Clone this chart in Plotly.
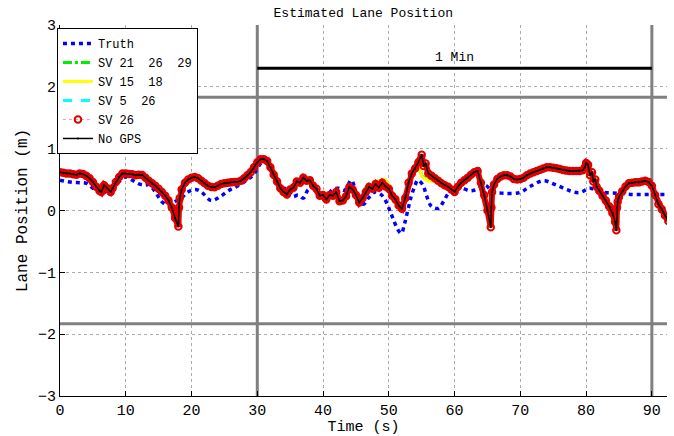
import plotly.graph_objects as go

# ---------------- data ----------------
est_t = [0.0, 0.5, 1.0, 1.5, 2.0, 2.5, 3.0, 3.5, 4.0, 4.5, 5.0, 5.5, 6.0, 6.3, 6.7, 7.2, 7.7, 8.0, 8.5, 9.0,
         9.5, 10.0, 10.5, 11.0, 11.5, 12.0, 12.5, 13.0, 13.5, 14.0, 14.5, 15.0, 15.5, 16.0, 16.5, 17.0, 17.5, 18.0,
         18.1, 18.2, 18.5, 19.0, 19.5, 20.0, 20.5, 21.0, 21.5, 22.0, 22.5, 23.0, 23.5, 24.0, 24.5, 25.0, 25.5,
         26.0, 26.5, 27.0, 27.5, 28.0, 28.5, 29.0, 29.5, 30.0, 30.5, 31.0, 31.5, 32.0, 32.5, 33.0, 33.5,
         34.0, 34.5, 35.0, 35.5, 36.0, 36.5, 37.0, 37.5, 38.0, 38.5, 39.0, 39.5, 40.0, 40.5, 41.0, 41.5,
         42.0, 42.5, 43.0, 43.5, 44.0, 44.5, 45.0, 45.5, 46.0, 46.5, 47.0, 47.5, 48.0, 48.5, 49.0, 49.5,
         50.0, 50.5, 51.0, 51.5, 52.0, 52.5, 53.0, 53.5, 54.0, 54.5, 55.0, 55.3, 55.6, 56.0, 56.5, 57.0,
         57.5, 58.0, 58.5, 59.0, 59.5, 60.0, 60.5, 61.0, 61.5, 62.0, 62.5, 63.0, 63.5, 64.0, 64.5, 65.0,
         65.5, 65.6, 65.7, 66.0, 66.5, 67.0, 67.5, 68.0, 68.5, 69.0, 69.5, 70.0, 70.5, 71.0, 71.5, 72.0,
         72.5, 73.0, 73.5, 74.0, 74.5, 75.0, 75.5, 76.0, 76.5, 77.0, 77.5, 78.0, 78.5, 79.0, 79.5, 79.8,
         80.0, 80.3, 80.6, 80.9, 81.1, 81.4, 81.6, 82.0, 82.5, 83.0, 83.5, 84.0, 84.4, 84.6, 84.7, 84.8,
         85.0, 85.5, 86.0, 86.5, 87.0, 87.5, 88.0, 88.5, 89.0, 89.5, 90.0, 90.5, 91.0, 91.5, 92.0, 92.5]
est_y = [0.62, 0.61, 0.60, 0.60, 0.585, 0.58, 0.60, 0.59, 0.56, 0.52, 0.46, 0.385, 0.32, 0.30, 0.41, 0.36, 0.30, 0.36, 0.46, 0.54,
         0.60, 0.60, 0.59, 0.585, 0.57, 0.58, 0.575, 0.53, 0.48, 0.44, 0.40, 0.35, 0.30, 0.24, 0.16, 0.05, -0.12, -0.26,
         0.05, 0.20, 0.34, 0.45, 0.50, 0.53, 0.54, 0.52, 0.48, 0.44, 0.40, 0.38, 0.375, 0.40, 0.43, 0.44, 0.45,
         0.455, 0.46, 0.46, 0.48, 0.52, 0.57, 0.62, 0.70, 0.78, 0.83, 0.83, 0.80, 0.70, 0.58, 0.47, 0.36,
         0.30, 0.26, 0.34, 0.37, 0.47, 0.45, 0.53, 0.48, 0.49, 0.40, 0.35, 0.24, 0.25, 0.18, 0.25, 0.24,
         0.30, 0.15, 0.16, 0.23, 0.38, 0.34, 0.25, 0.13, 0.20, 0.30, 0.38, 0.35, 0.43, 0.37, 0.45, 0.39,
         0.35, 0.24, 0.18, 0.08, 0.03, 0.20, 0.45, 0.60, 0.68, 0.78, 0.90, 0.72, 0.76, 0.60, 0.56, 0.52,
         0.48, 0.44, 0.41, 0.385, 0.34, 0.30, 0.385, 0.45, 0.49, 0.53, 0.58, 0.62, 0.64, 0.45, 0.25, 0.00,
         -0.27, 0.05, 0.30, 0.42, 0.51, 0.55, 0.57, 0.57, 0.55, 0.51, 0.50, 0.51, 0.53, 0.57, 0.60, 0.62,
         0.64, 0.66, 0.68, 0.70, 0.70, 0.69, 0.685, 0.67, 0.655, 0.645, 0.64, 0.64, 0.64, 0.64, 0.65, 0.70,
         0.77, 0.74, 0.57, 0.62, 0.47, 0.50, 0.385, 0.32, 0.24, 0.16, 0.07, -0.04, -0.18, -0.32, 0.05, 0.14,
         0.22, 0.31, 0.39, 0.44, 0.45, 0.455, 0.455, 0.47, 0.48, 0.46, 0.40, 0.25, 0.10, 0.02, -0.08, -0.17]

# deviations of the other satellite-configuration estimates (time -> value)
sv21_26_29_dev = {46.5: 0.40, 47.0: 0.44, 47.5: 0.45, 48.0: 0.47, 55.0: 0.56, 55.3: 0.53, 55.6: 0.51, 56.0: 0.50}
sv15_18_dev = {48.0: 0.47, 48.5: 0.48, 49.0: 0.50, 49.5: 0.50, 50.0: 0.42,
               55.0: 0.55, 55.3: 0.52, 55.6: 0.50, 56.0: 0.48, 56.5: 0.47, 57.0: 0.47}
sv5_26_dev = {18.1: -0.05, 65.6: -0.10, 84.7: -0.10}

truth_t = [0, 1, 2, 3, 4, 5, 6, 6.5, 7, 8, 9, 10, 11, 12, 13, 13.5, 14.5, 15.5, 16.5, 17.4, 18.4, 19.4, 20.5, 21,
           21.7, 23, 24.3, 25.6, 26.8, 28.1, 29.4, 30.1, 30.9, 31.8, 32.6, 33.6, 34.7, 35.4, 36.2, 37, 37.7, 38.7,
           39.8, 40.5, 41.3, 42.3, 43.3, 44.3, 45.1, 46.1, 46.9, 47.9, 48.9, 49.6, 50.1, 50.6, 51.4, 51.9, 52.4,
           52.9, 53.4, 54.0, 54.4, 55.2, 55.7, 56.5, 57.5, 58.3, 59.0, 60.1, 61.0, 62.3, 63.3, 64.6, 65.9, 67.4,
           69.9, 71.4, 73.5, 75.5, 77.5, 79.0, 80.6, 82.1, 84.6, 87.2, 89.7, 92.3]
truth_y = [0.49, 0.47, 0.455, 0.45, 0.44, 0.36, 0.29, 0.28, 0.31, 0.39, 0.47, 0.54, 0.49, 0.43, 0.41, 0.42, 0.30,
           0.14, 0.08, 0.14, 0.20, 0.295, 0.34, 0.33, 0.28, 0.16, 0.22, 0.32, 0.385, 0.47, 0.575, 0.70, 0.80, 0.70,
           0.55, 0.385, 0.33, 0.225, 0.25, 0.20, 0.33, 0.385, 0.225, 0.14, 0.33, 0.36, 0.33, 0.49, 0.27, 0.10, 0.20,
           0.30, 0.25, 0.14, 0.01, -0.12, -0.315, -0.37, -0.21, 0.01, 0.225, 0.41, 0.49, 0.41, 0.25, 0.065, 0.035,
           0.14, 0.27, 0.385, 0.37, 0.32, 0.34, 0.41, 0.30, 0.28, 0.29, 0.385, 0.48, 0.41, 0.32, 0.29, 0.36, 0.30,
           0.28, 0.26, 0.26, 0.26]

lane_edges = [1.83, -1.83]
marker_times = [30, 90]
min_bar_y = 2.3
min_label = "1 Min"
x_ticks = [0, 10, 20, 30, 40, 50, 60, 70, 80, 90]
y_ticks = [-3, -2, -1, 0, 1, 2, 3]

FONT = "Liberation Mono, Courier New, monospace"


def with_dev(dev):
    return [dev.get(t, v) for t, v in zip(est_t, est_y)]


fig = go.Figure()

# reference lines (lane edges, 1-minute window)
for ly in lane_edges:
    fig.add_trace(go.Scatter(x=[0, 92.3], y=[ly, ly], mode="lines",
                             line=dict(color="#808080", width=3), showlegend=False, hoverinfo="skip"))
for lx in marker_times:
    fig.add_trace(go.Scatter(x=[lx, lx], y=[-3, 3], mode="lines",
                             line=dict(color="#808080", width=3), showlegend=False, hoverinfo="skip"))
fig.add_trace(go.Scatter(x=marker_times, y=[min_bar_y, min_bar_y], mode="lines",
                         line=dict(color="black", width=3), showlegend=False, hoverinfo="skip"))

fig.add_trace(go.Scatter(x=truth_t, y=truth_y, mode="lines", name="Truth", line_shape="spline",
                         line=dict(color="#0000ff", width=3.5, dash="4px,4px")))
fig.add_trace(go.Scatter(x=est_t, y=with_dev(sv21_26_29_dev), mode="lines", name="SV 21  26  29",
                         line=dict(color="#00ee00", width=3, dash="dashdot")))
fig.add_trace(go.Scatter(x=est_t, y=with_dev(sv15_18_dev), mode="lines", name="SV 15  18",
                         line=dict(color="#ffff00", width=3)))
fig.add_trace(go.Scatter(x=est_t, y=with_dev(sv5_26_dev), mode="lines", name="SV 5  26",
                         line=dict(color="#00ffff", width=3, dash="dash")))
# dense red-circle band of the SV 26 estimate (circles overlap into a band)
fig.add_trace(go.Scatter(x=est_t, y=est_y, mode="lines", name="SV 26 band", showlegend=False,
                         line=dict(color="#ee0000", width=6), hoverinfo="skip"))
fig.add_trace(go.Scatter(x=est_t, y=est_y, mode="lines+markers", name="SV 26",
                         line=dict(color="#ff9a9a", width=1, dash="dot"),
                         marker=dict(symbol="circle-open", color="#e00000", size=6.5, line=dict(width=2))))
fig.add_trace(go.Scatter(x=est_t, y=est_y, mode="lines+markers", name="No GPS",
                         line=dict(color="black", width=1.5),
                         marker=dict(symbol="circle", color="black", size=2)))

fig.add_annotation(x=60, y=2.47, text=min_label, showarrow=False,
                   font=dict(family=FONT, size=13, color="black"))

axis_common = dict(showline=True, linecolor="black", linewidth=1, mirror=False,
                   ticks="inside", ticklen=5, tickcolor="black",
                   showgrid=True, gridcolor="#aaaaaa", griddash="dot", gridwidth=1,
                   zeroline=False, tickfont=dict(family=FONT, size=15, color="black"),
                   automargin=False)

fig.update_layout(
    width=674, height=436,
    margin=dict(l=60, r=7, t=25, b=40),
    paper_bgcolor="white", plot_bgcolor="white",
    title=dict(text="Estimated Lane Position", x=0.539, xanchor="center", y=0.972, yanchor="middle",
               font=dict(family=FONT, size=13, color="black")),
    xaxis=dict(range=[0, 92.3], tickvals=x_ticks,
               title=dict(text="Time (s)", font=dict(family=FONT, size=15, color="black"), standoff=8),
               **axis_common),
    yaxis=dict(range=[-3, 3], tickvals=y_ticks,
               title=dict(text="Lane Position (m)", font=dict(family=FONT, size=16, color="black"), standoff=6),
               **axis_common),
    legend=dict(x=-0.005, y=0.992, xanchor="left", yanchor="top",
                bgcolor="white", bordercolor="black", borderwidth=1,
                font=dict(family=FONT, size=12, color="black"),
                itemwidth=30, tracegroupgap=0),
    showlegend=True,
)

fig.write_html("out.html")
